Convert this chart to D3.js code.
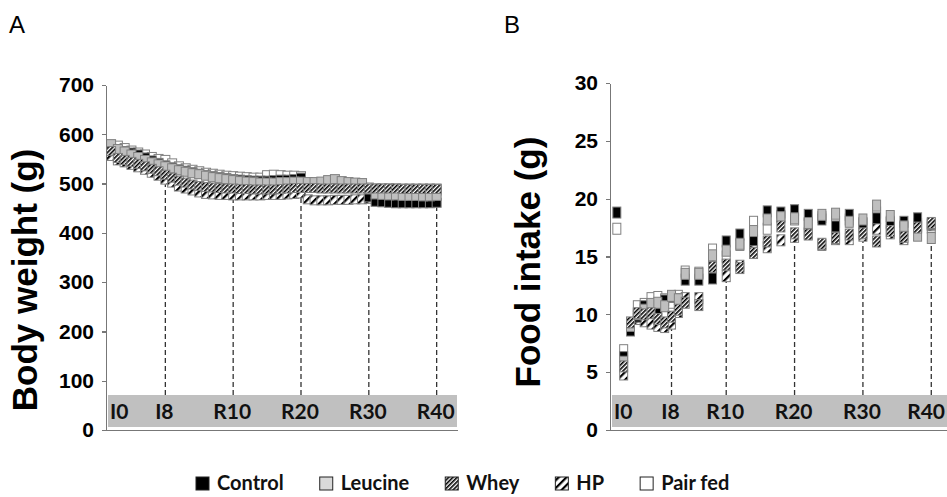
<!DOCTYPE html>
<html lang="en">
<head>
  <meta charset="utf-8">
  <title>Body weight and food intake</title>
  <script src="https://cdn.jsdelivr.net/npm/d3@7"></script>
  <style>
    body { margin: 0; background: #fff; }
    .axis path, .axis line { stroke: #777; stroke-width: 1.2; shape-rendering: crispEdges; }
    .axis text {
      font-family: "Liberation Sans", Arial, sans-serif;
      font-weight: bold;
      font-size: 21px;
      fill: #000;
    }
    .title {
      font-family: "Liberation Sans", Arial, sans-serif;
      font-weight: bold;
      font-size: 35px;
    }
    .panel-letter {
      font-family: "Liberation Sans", Arial, sans-serif;
      font-size: 24px;
    }
    .band-label, .legend text {
      font-family: Lato, "Open Sans", sans-serif;
      font-weight: bold;
      fill: #111;
    }
    .band-label { font-size: 21px; }
    .legend text { font-size: 20px; }
    .drop { stroke: #333; stroke-width: 1.3; stroke-dasharray: 5, 3; }
    .mark { stroke: #808080; stroke-width: 1; }
  </style>
</head>
<body>
<script>
  var w = 947;
  var h = 497;

  var seriesNames = ["Control", "Leucine", "Whey", "HP", "Pair fed"];
  var bandLabels = ["I0", "I8", "R10", "R20", "R30", "R40"];

  // Panel A: body weight (g), one point per day
  var daysA = [0, 1, 2, 3, 4, 5, 6, 7, 8, 9, 10, 11, 12, 13, 14, 15, 16, 17, 18, 19, 20, 21, 22, 23, 24,
    25, 26, 27, 28, 29, 30, 31, 32, 33, 34, 35, 36, 37, 38, 39, 40, 41, 42, 43, 44, 45, 46, 47, 48];
  var labelDaysA = [0, 8, 18, 28, 38, 48];
  var controlA = [572, 569, 566, 563, 559, 553, 547, 542, 537, 533, 529, 526, 523, 520, 517, 515, 513, 511, 509, 508,
    507, 506, 506, 506, 507, 508, 508, 509, 512, 499, 498, 497, 496, 496, 495, 494, 494, 493, 472, 463,
    462, 461, 460, 460, 460, 460, 460, 460, 461];
  var leucineA = [580, 570, 565, 559, 554, 548, 543, 539, 535, 531, 527, 524, 521, 519, 516, 513, 511, 509, 507, 505,
    504, 503, 502, 502, 502, 503, 503, 504, 504, 503, 503, 504, 507, 509, 505, 503, 502, 501, 488, 478,
    477, 476, 476, 475, 475, 475, 474, 474, 475];
  var wheyA = [566, 552, 548, 544, 540, 535, 530, 525, 518, 512, 506, 502, 498, 495, 493, 492, 491, 490, 490, 489,
    489, 488, 488, 488, 488, 489, 490, 491, 491, 491, 491, 490, 490, 490, 490, 490, 490, 490, 490, 490,
    490, 490, 490, 489, 489, 489, 489, 489, 489];
  var hpA = [556, 547, 543, 538, 533, 528, 522, 516, 508, 502, 494, 490, 486, 482, 479, 478, 477, 477, 476, 476,
    476, 476, 476, 477, 477, 477, 478, 479, 480, 468, 466, 466, 466, 467, 467, 467, 468, 468, 469, 486,
    486, 486, 486, 486, 486, 486, 486, 486, 486];
  var pairFedA = [574, 577, 572, 567, 563, 559, 554, 550, 548, 541, 535, 531, 528, 525, 522, 520, 518, 516, 515, 514,
    513, 512, 512, 517, 518, 517, 516, 516, 515, 495, 494, 494, 494, 494, 494, 493, 493, 492, 492, 490,
    490, 490, 490, 490, 490, 490, 490, 490, 490];

  // Panel B: food intake (g)
  var daysB = [0, 1, 2, 3, 4, 5, 6, 7, 8, 9, 10, 12, 14, 16, 18, 20, 22, 24, 26, 28, 30, 32, 34, 36, 38, 40, 42, 44, 46];
  var labelDaysB = [0, 8, 16, 26, 36, 46];
  var controlB = [18.8, 6.3, 8.6, 9.8, 10.7, 10.8, 10.4, 11.2, 11.5, 11.3, 13.0, 13.0, 13.1, 16.3, 16.9, 16.4, 18.9,
    18.8, 19.0, 18.6, 18.2, 17.6, 18.6, 17.8, 18.3, 17.9, 18.0, 18.3, 17.8];
  var leucineB = [null, 5.9, 9.0, 10.0, 10.4, 10.9, 11.0, 10.7, 11.6, 11.3, 13.5, 13.5, 15.1, 15.5, 16.1, 17.2, 18.2,
    18.4, 18.3, 17.9, 18.6, 18.7, 18.0, 18.2, 19.4, 18.5, 17.6, 16.8, 16.6];
  var wheyB = [null, 5.5, 9.3, 10.1, 10.0, 10.1, 9.6, 9.3, 9.8, 10.4, 11.0, 10.8, 14.1, 14.3, 14.0, 15.3, 16.3,
    17.6, 17.0, 16.9, 16.1, 16.6, 16.9, 17.0, 16.3, 17.2, 16.7, 17.5, 17.9];
  var hpB = [null, 4.8, 9.0, 9.6, 9.4, 9.2, 9.0, 8.9, 9.2, 10.2, 11.4, 11.4, 14.6, 13.3, 14.2, 15.9, 15.8,
    16.4, 16.7, 17.0, 16.0, 16.5, 16.5, 16.8, 17.4, 17.0, 16.5, 17.6, 17.7];
  var pairFedB = [17.4, 6.9, 9.1, 10.7, 10.9, 11.4, 11.5, 11.3, 11.0, 11.6, 13.7, 13.6, 15.6, 15.0, 16.0, 18.0, 17.4,
    18.5, 18.2, 17.8, 18.4, 18.0, 18.2, 17.9, 18.8, 18.0, 17.5, 17.8, 17.5];

  var svg = d3.select("body")
    .append("svg")
    .attr("width", w)
    .attr("height", h);

  var defs = svg.append("defs");

  function addHatch(id, size, stripe) {
    var p = defs.append("pattern")
      .attr("id", id)
      .attr("patternUnits", "userSpaceOnUse")
      .attr("width", size)
      .attr("height", size)
      .attr("patternTransform", "rotate(45)");
    p.append("rect").attr("width", size).attr("height", size).attr("fill", "#fff");
    p.append("rect").attr("width", stripe).attr("height", size).attr("fill", "#000");
  }
  addHatch("hatch-whey", 3, 1.6);
  addHatch("hatch-hp", 5.5, 2.2);

  var fills = {
    "Control": "#000",
    "Leucine": "#bfbfbf",
    "Whey": "url(#hatch-whey)",
    "HP": "url(#hatch-hp)",
    "Pair fed": "#fff"
  };
  // drawing order (first = bottom layer)
  var drawOrder = ["Pair fed", "HP", "Control", "Leucine", "Whey"];

  function drawPanel(p) {
    var g = svg.append("g");
    var x0 = p.x.range()[0], x1 = p.x.range()[1];
    var yBase = p.y.range()[0];
    var bandTop = yBase - 35;

    // grey band with time labels
    g.append("rect")
      .attr("x", x0 + 2)
      .attr("y", bandTop)
      .attr("width", x1 - x0 - 2)
      .attr("height", 32)
      .attr("fill", "#c0c0c0");

    g.selectAll(".band-label")
      .data(bandLabels)
      .enter()
      .append("text")
      .attr("class", "band-label")
      .attr("y", yBase - 11)
      .attr("text-anchor", "middle")
      .text(function (d) { return d; })
      .attr("x", function (d, i) {
        var half = this.getComputedTextLength() / 2;
        if (i === 0) return x0 + 4 + half;
        return Math.min(p.x(p.labelDays[i]) - 1, x1 - half - 2);
      });

    // dashed drop lines from band up to lowest marker
    g.selectAll(".drop")
      .data(p.labelDays.slice(1))
      .enter()
      .append("line")
      .attr("class", "drop")
      .attr("x1", function (d) { return p.x(d); })
      .attr("x2", function (d) { return p.x(d); })
      .attr("y1", bandTop)
      .attr("y2", function (d) {
        var i = p.days.indexOf(d);
        var lo = d3.min(seriesNames, function (s) { return p.series[s][i]; });
        return p.y(lo) + p.mh / 2;
      });

    // markers
    drawOrder.forEach(function (s) {
      var pts = p.days.map(function (d, i) { return { day: d, v: p.series[s][i] }; })
        .filter(function (d) { return d.v != null; });
      g.append("g")
        .selectAll("rect")
        .data(pts)
        .enter()
        .append("rect")
        .attr("class", "mark")
        .attr("x", function (d) { return p.x(d.day) - p.mw / 2; })
        .attr("y", function (d) { return p.y(d.v) - p.mh / 2; })
        .attr("width", p.mw)
        .attr("height", p.mh)
        .attr("fill", fills[s]);
    });

    // axes
    g.append("g")
      .attr("class", "axis")
      .attr("transform", "translate(0," + yBase + ")")
      .call(d3.axisBottom(p.x).tickValues([]).tickSizeOuter(0));

    g.append("g")
      .attr("class", "axis")
      .attr("transform", "translate(" + x0 + ",0)")
      .call(d3.axisLeft(p.y).ticks(p.nTicks).tickSize(4).tickPadding(8).tickSizeOuter(0));

    g.append("text")
      .attr("class", "title")
      .attr("transform", "translate(" + p.titleX + "," + p.titleY + ") rotate(-90)")
      .attr("text-anchor", "middle")
      .text(p.title);

    g.append("text")
      .attr("class", "panel-letter")
      .attr("x", p.letterX)
      .attr("y", 33)
      .text(p.letter);
  }

  drawPanel({
    x: d3.scaleLinear().domain([-0.75, 51]).range([106, 457]),
    y: d3.scaleLinear().domain([0, 700]).range([430, 85]),
    nTicks: 7,
    days: daysA,
    labelDays: labelDaysA,
    series: { "Control": controlA, "Leucine": leucineA, "Whey": wheyA, "HP": hpA, "Pair fed": pairFedA },
    mw: 9, mh: 9,
    title: "Body weight (g)", titleX: 37, titleY: 280,
    letter: "A", letterX: 9
  });

  drawPanel({
    x: d3.scaleLinear().domain([-1, 48.3]).range([610, 947]),
    y: d3.scaleLinear().domain([0, 30]).range([430, 83]),
    nTicks: 6,
    days: daysB,
    labelDays: labelDaysB,
    series: { "Control": controlB, "Leucine": leucineB, "Whey": wheyB, "HP": hpB, "Pair fed": pairFedB },
    mw: 8, mh: 11,
    title: "Food intake (g)", titleX: 540, titleY: 262,
    letter: "B", letterX: 504
  });

  // legend
  var legend = svg.append("g").attr("class", "legend");
  var lx = 196;
  seriesNames.forEach(function (s) {
    legend.append("rect")
      .attr("x", lx)
      .attr("y", 477)
      .attr("width", 13)
      .attr("height", 13)
      .attr("fill", s === "Leucine" ? "#d9d9d9" : fills[s])
      .attr("stroke", "#222")
      .attr("stroke-width", 1);
    var t = legend.append("text")
      .attr("x", lx + 21)
      .attr("y", 490)
      .text(s);
    lx += 21 + t.node().getComputedTextLength() + 36;
  });
</script>
</body>
</html>
